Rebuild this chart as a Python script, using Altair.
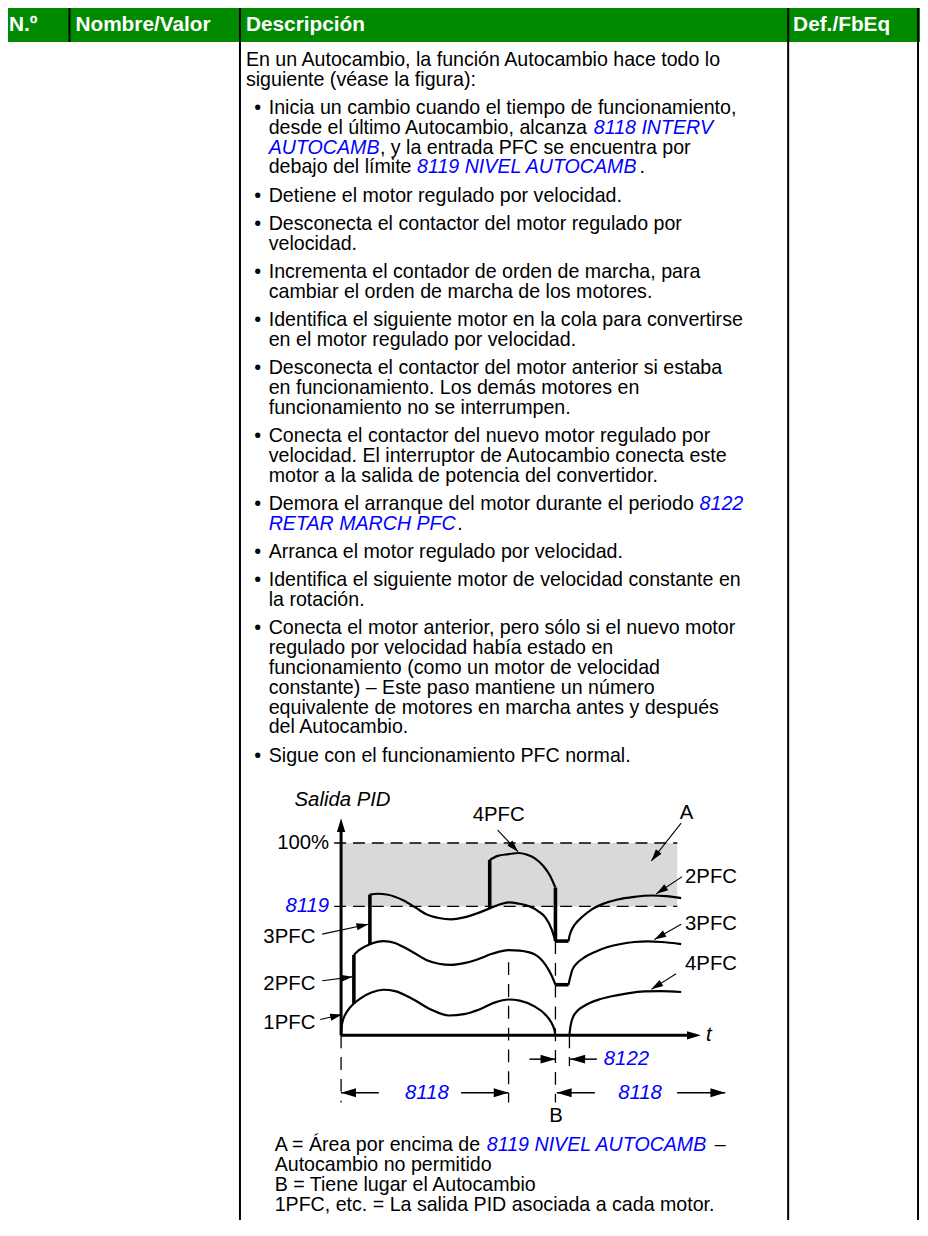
import math
import re
import altair as alt
import pandas as pd

# ------------------------------------------------------------------ text content
header_labels = ["N.º", "Nombre/Valor", "Descripción", "Def./FbEq"]

intro_lines = [
    "En un Autocambio, la función Autocambio hace todo lo",
    "siguiente (véase la figura):",
]

bullet_items = [
    ["Inicia un cambio cuando el tiempo de funcionamiento,",
     "desde el último Autocambio, alcanza {8118 INTERV}",
     "{AUTOCAMB}, y la entrada PFC se encuentra por",
     "debajo del límite {8119 NIVEL AUTOCAMB}."],
    ["Detiene el motor regulado por velocidad."],
    ["Desconecta el contactor del motor regulado por",
     "velocidad."],
    ["Incrementa el contador de orden de marcha, para",
     "cambiar el orden de marcha de los motores."],
    ["Identifica el siguiente motor en la cola para convertirse",
     "en el motor regulado por velocidad."],
    ["Desconecta el contactor del motor anterior si estaba",
     "en funcionamiento. Los demás motores en",
     "funcionamiento no se interrumpen."],
    ["Conecta el contactor del nuevo motor regulado por",
     "velocidad. El interruptor de Autocambio conecta este",
     "motor a la salida de potencia del convertidor."],
    ["Demora el arranque del motor durante el periodo {8122}",
     "{RETAR MARCH PFC}."],
    ["Arranca el motor regulado por velocidad."],
    ["Identifica el siguiente motor de velocidad constante en",
     "la rotación."],
    ["Conecta el motor anterior, pero sólo si el nuevo motor",
     "regulado por velocidad había estado en",
     "funcionamiento (como un motor de velocidad",
     "constante) – Este paso mantiene un número",
     "equivalente de motores en marcha antes y después",
     "del Autocambio."],
    ["Sigue con el funcionamiento PFC normal."],
]

legend_lines = [
    "A = Área por encima de {8119 NIVEL AUTOCAMB} –",
    "Autocambio no permitido",
    "B = Tiene lugar el Autocambio",
    "1PFC, etc. = La salida PID asociada a cada motor.",
]

# ------------------------------------------------------------------ diagram data
# t : time (one 8118 interval = 10 units),  v : PID output in %
level_100 = 100
level_8119 = 67
t_interval = 9.94
t_change = 12.72
t_restart = 13.5
t_shade_end = 19.95

pfc1_t = [0, 0.03, 0.1, 0.2, 0.4, 0.76, 1.2, 1.8, 2.5, 3.2, 4.3, 5.3, 6.4, 7.3, 8.2, 9.1,
          9.94, 10.6, 11.5, 12.1, 12.45, 12.65, 12.72]
pfc1_v = [0, 4, 7.5, 10, 13, 16.5, 19.5, 22.3, 23.7, 23, 18.6, 13.5, 10.3, 11, 13.4, 17,
          18.6, 18, 14.9, 11, 7, 3, 0]

pfc2_t = [0.76, 1.06, 1.71, 2.53, 3.2, 3.71, 4.4, 5.06, 5.8, 6.53, 7.3, 8.0, 9.0, 9.94,
          10.6, 11.5, 12.1, 12.5, 12.72]
pfc2_v = [41.8, 44.3, 47.4, 49.0, 48.0, 45.9, 42.5, 39.2, 37.2, 36.6, 37.5, 39.2, 42.5, 44.3,
          44, 42, 37, 31, 26.3]

pfc3_t = [1.71, 2.2, 2.71, 3.71, 4.4, 5.06, 5.8, 6.53, 7.3, 8.0, 8.82, 9.4, 9.94, 10.53,
          11.2, 11.71, 12.12, 12.5, 12.72]
pfc3_v = [73.2, 73.6, 73.2, 70.1, 66.5, 62.9, 61, 60.3, 61.3, 63.2, 66.0, 68, 69.1, 68.5,
          67, 64.5, 61.3, 55, 49.0]

pfc4_t = [8.82, 9.3, 9.94, 10.53, 11.0, 11.5, 12.0, 12.4, 12.72]
pfc4_v = [91.2, 93.3, 94.2, 94.8, 94, 92, 88, 83, 76.8]

after2_t = [13.5, 13.55, 13.62, 13.72, 13.88, 14.3, 14.88, 15.6, 16.41, 17.4, 18.41, 19.3, 20.18]
after2_v = [49.0, 51.5, 53.5, 55.5, 57.7, 61.5, 65.5, 68.5, 70.6, 72.0, 72.7, 72.4, 71.3]

after3_t = [13.5, 13.55, 13.62, 13.72, 14.0, 14.47, 15.1, 15.82, 16.6, 17.41, 18.2, 19.0, 20.18]
after3_v = [26.3, 28.5, 31, 34.0, 37.5, 40.7, 43.5, 45.9, 47.5, 48.5, 48.8, 48.5, 47.4]

after4_t = [13.55, 13.6, 13.67, 13.78, 14.0, 14.47, 15.2, 16.06, 17.0, 18.0, 19.0, 20.18]
after4_v = [0, 4, 7, 9.8, 12.5, 15.5, 18.3, 20.3, 21.8, 22.8, 23, 22.5]

jump_t = [0.76, 1.71, 8.82, t_change]
jump_from = [16.5, 47.4, 66.0, 76.8]
jump_to = [41.8, 73.2, 91.2, 49.0]
bar_v = [49.0, 26.3]

# pointer arrows: start (t, v) -> tip (t, v)
pointer_arrows = [
    (-1.12, 52.6, 1.62, 57.7),
    (-1.12, 28.4, 0.68, 30.4),
    (-1.24, 8.2, 0.06, 10.8),
    (9.29, 106.7, 10.5, 95.5),
    (20.18, 110.3, 18.41, 90.7),
    (20.24, 82.5, 18.71, 73.6),
    (20.18, 57.7, 18.59, 49.8),
    (19.88, 32.0, 18.41, 23.9),
]
# dimension arrows (t start, t tip, v)
dim_arrows = [
    (11.18, t_change, -12.4),
    (15.18, 13.6, -12.4),
    (2.24, 0.0, -29.9),
    (7.12, t_interval, -29.9),
    (15.06, 12.8, -29.9),
    (19.94, 22.8, -29.9),
]
dashed_vertical = [(0.0, 0, -35), (t_interval, 38, -35), (t_change, 49, -35), (13.55, 0, -16)]

labels_plain = [
    ("100%", -0.71, 100, "right"), ("3PFC", -1.53, 51.0, "right"),
    ("2PFC", -1.53, 26.8, "right"), ("1PFC", -1.53, 6.2, "right"),
    ("4PFC", 9.35, 114.4, "center"), ("A", 20.5, 115.5, "center"),
    ("2PFC", 20.41, 82.5, "left"), ("3PFC", 20.41, 57.7, "left"),
    ("4PFC", 20.41, 37.1, "left"), ("B", 12.76, -41.8, "center"),
]
labels_italic = [("Salida PID", -2.76, 122.2, "left"), ("t", 21.65, 0, "left")]
labels_link = [
    ("8119", -0.71, level_8119, "right"), ("8122", 15.59, -12.4, "left"),
    ("8118", 5.09, -29.9, "center"), ("8118", 17.74, -29.9, "center"),
]

# ------------------------------------------------------------------ style / layout
FONT = "Liberation Sans"
GREEN = "#008A00"
BLUE = "#0000FF"
GRAY = "#D9D9D9"
MARGIN = 8
CH_W, CH_H = 920, 1212

HEADER_TOP, HEADER_BOT = 2, 37
HEADER_X = [9, 76, 248, 800]
HEADER_Y = 20
COL_HEADER_ONLY = [70]
COL_FULL = [4, 242, 795, 926]
PAGE_BOTTOM = 1236

BODY_SIZE = 19.8
BODY_TOP, LINE_H, BULLET_GAP = 55, 20, 8.5
PARA_X, BULLET_X, TEXT_X = 248, 260, 271
LEGEND_X, LEGEND_TOP, LEGEND_H, LEGEND_SIZE = 277, 1150, 20, 19.8
LABEL_SIZE = 20.5

DIA_X_DOMAIN, DIA_X_RANGE = [0, 20], [336, 676]
DIA_Y_DOMAIN, DIA_Y_RANGE = [0, 100], [1031, 837]
SX = (DIA_X_RANGE[1] - DIA_X_RANGE[0]) / (DIA_X_DOMAIN[1] - DIA_X_DOMAIN[0])
SY = (DIA_Y_RANGE[0] - DIA_Y_RANGE[1]) / (DIA_Y_DOMAIN[1] - DIA_Y_DOMAIN[0])

xs_page = alt.Scale(domain=[MARGIN, MARGIN + CH_W], range=[0, CH_W], nice=False, zero=False)
ys_page = alt.Scale(domain=[MARGIN, MARGIN + CH_H], range=[0, CH_H], nice=False, zero=False)
xs_dia = alt.Scale(domain=DIA_X_DOMAIN, range=DIA_X_RANGE, nice=False, zero=False)
ys_dia = alt.Scale(domain=DIA_Y_DOMAIN, range=DIA_Y_RANGE, nice=False, zero=False)

# Arial / Helvetica advance widths (1/1000 em) for placing inline segments
ADV = {' ': 278, '!': 278, '(': 333, ')': 333, ',': 278, '-': 333, '.': 278, '/': 278,
       ':': 278, '%': 889, '=': 584, '–': 556, '•': 350, 'º': 365,
       'á': 556, 'é': 556, 'í': 278, 'ó': 556, 'ú': 556, 'ñ': 556, 'Á': 667}
for ch in "0123456789":
    ADV[ch] = 556
for ch, w in zip("ABCDEFGHIJKLMNOPQRSTUVWXYZ",
                 [667, 667, 722, 722, 667, 611, 778, 722, 278, 500, 667, 556, 833, 722, 778,
                  667, 778, 722, 667, 611, 722, 667, 944, 667, 667, 611]):
    ADV[ch] = w
for ch, w in zip("abcdefghijklmnopqrstuvwxyz",
                 [556, 556, 500, 556, 556, 278, 556, 556, 222, 222, 500, 222, 833, 556, 556,
                  556, 556, 333, 500, 278, 556, 500, 722, 500, 500, 500]):
    ADV[ch] = w


def text_width(s, size):
    return sum(ADV.get(c, 556) for c in s) * size / 1000.0


def split_segments(line):
    out = []
    for p in re.split(r"(\{[^}]*\})", line):
        if not p:
            continue
        out.append((p[1:-1], True) if p.startswith("{") else (p, False))
    return out


def place_line(line, x0, y, size, rows):
    x = x0
    for seg, link in split_segments(line):
        lead = len(seg) - len(seg.lstrip(" "))
        rows.append(dict(x=x + text_width(seg[:lead], size), y=y, text=seg.strip(" "), link=link))
        x += text_width(seg, size)


# ---- body text rows
body_rows, bullet_rows = [], []
line_idx, gaps = 0, 0
for ln in intro_lines:
    place_line(ln, PARA_X, BODY_TOP + LINE_H * line_idx, BODY_SIZE, body_rows)
    line_idx += 1
for item in bullet_items:
    gaps += 1
    for k, ln in enumerate(item):
        y = BODY_TOP + LINE_H * line_idx + BULLET_GAP * gaps
        if k == 0:
            bullet_rows.append(dict(x=BULLET_X, y=y, text="•"))
        place_line(ln, TEXT_X, y, BODY_SIZE, body_rows)
        line_idx += 1

legend_rows = []
for i, ln in enumerate(legend_lines):
    place_line(ln, LEGEND_X, LEGEND_TOP + LEGEND_H * i, LEGEND_SIZE, legend_rows)

body_df = pd.DataFrame(body_rows)
legend_df = pd.DataFrame(legend_rows)


def text_layer(df, xs, ys, size, align="left", color="black", style="normal", weight="normal"):
    return alt.Chart(df).mark_text(
        align=align, baseline="middle", font=FONT, fontSize=size,
        fontStyle=style, fontWeight=weight, color=color,
    ).encode(
        x=alt.X("x:Q", scale=xs, axis=None),
        y=alt.Y("y:Q", scale=ys, axis=None),
        text=alt.Text("text:N"),
    )


def px(field, scale):
    return alt.X(field, type="quantitative", scale=scale, axis=None)


def py(field, scale):
    return alt.Y(field, type="quantitative", scale=scale, axis=None)


layers = []

# ---- table frame
header_df = pd.DataFrame([dict(x=0, x2=MARGIN + CH_W, y=HEADER_TOP, y2=HEADER_BOT)])
layers.append(alt.Chart(header_df).mark_rect(color=GREEN).encode(
    x=px("x", xs_page), x2="x2", y=py("y", ys_page), y2="y2"))

col_rows = [dict(x=c, y=HEADER_TOP, y2=HEADER_BOT) for c in COL_HEADER_ONLY]
col_rows += [dict(x=c, y=HEADER_TOP, y2=PAGE_BOTTOM) for c in COL_FULL]
layers.append(alt.Chart(pd.DataFrame(col_rows)).mark_rule(color="black", strokeWidth=2).encode(
    x=px("x", xs_page), y=py("y", ys_page), y2="y2"))

hdr_text = pd.DataFrame([dict(x=x, y=HEADER_Y, text=t) for x, t in zip(HEADER_X, header_labels)])
layers.append(text_layer(hdr_text, xs_page, ys_page, 21, color="white", weight="bold"))

# ---- body text
layers.append(text_layer(body_df[~body_df.link], xs_page, ys_page, BODY_SIZE))
layers.append(text_layer(body_df[body_df.link], xs_page, ys_page, BODY_SIZE, color=BLUE, style="italic"))
layers.append(text_layer(pd.DataFrame(bullet_rows), xs_page, ys_page, BODY_SIZE, align="center"))

# ---- diagram: shaded area
shade_df = pd.DataFrame([dict(t=0, t2=t_shade_end, v=level_8119, v2=level_100)])
layers.append(alt.Chart(shade_df).mark_rect(color=GRAY).encode(
    x=px("t", xs_dia), x2="t2", y=py("v", ys_dia), y2="v2"))

# dashed horizontal levels
hlev = pd.DataFrame([dict(t=-0.41, t2=t_shade_end, v=level_100), dict(t=-0.41, t2=t_shade_end, v=level_8119)])
layers.append(alt.Chart(hlev).mark_rule(color="black", strokeWidth=1.3, strokeDash=[12, 7]).encode(
    x=px("t", xs_dia), x2="t2", y=py("v", ys_dia)))

# dashed vertical markers
vdf = pd.DataFrame([dict(t=t, v=a, v2=b) for t, a, b in dashed_vertical])
layers.append(alt.Chart(vdf).mark_rule(color="black", strokeWidth=1.3, strokeDash=[13, 9]).encode(
    x=px("t", xs_dia), y=py("v", ys_dia), y2="v2"))

# curves
curve_rows = []
for name, ts, vs in [("1PFC", pfc1_t, pfc1_v), ("2PFC", pfc2_t, pfc2_v), ("3PFC", pfc3_t, pfc3_v),
                     ("4PFC", pfc4_t, pfc4_v), ("2PFC'", after2_t, after2_v),
                     ("3PFC'", after3_t, after3_v), ("4PFC'", after4_t, after4_v)]:
    for i, (t, v) in enumerate(zip(ts, vs)):
        curve_rows.append(dict(curve=name, i=i, t=t, v=v))
layers.append(alt.Chart(pd.DataFrame(curve_rows)).mark_line(
    color="black", strokeWidth=2.2, interpolate="monotone").encode(
    x=px("t", xs_dia), y=py("v", ys_dia), detail="curve:N", order="i:Q"))

# thick switching segments
thick = [dict(t=t, t2=t, v=a, v2=b) for t, a, b in zip(jump_t, jump_from, jump_to)]
thick += [dict(t=t_change, t2=t_restart, v=v, v2=v) for v in bar_v]
layers.append(alt.Chart(pd.DataFrame(thick)).mark_rule(color="black", strokeWidth=3.6).encode(
    x=px("t", xs_dia), x2="t2", y=py("v", ys_dia), y2="v2"))

# axes
axes = pd.DataFrame([dict(t=0, t2=0, v=0, v2=108), dict(t=0, t2=20.6, v=0, v2=0)])
layers.append(alt.Chart(axes).mark_rule(color="black", strokeWidth=3).encode(
    x=px("t", xs_dia), x2="t2", y=py("v", ys_dia), y2="v2"))


def head_angle(t0, v0, t1, v1):
    dx = (t1 - t0) * SX
    dy = -(v1 - v0) * SY
    return math.degrees(math.atan2(dx, -dy)) % 360.0


heads = [dict(t=0, v=112.9, ang=0.0, sz=196), dict(t=21.35, v=0, ang=90.0, sz=196)]
ptr_rows = []
for t0, v0, t1, v1 in pointer_arrows:
    ptr_rows.append(dict(t=t0, v=v0, t2=t1, v2=v1))
    heads.append(dict(t=t1, v=v1, ang=head_angle(t0, v0, t1, v1), sz=144))
dim_rows = []
for t0, t1, v in dim_arrows:
    dim_rows.append(dict(t=t0, t2=t1, v=v))
    heads.append(dict(t=t1, v=v, ang=head_angle(t0, v, t1, v), sz=225))

layers.append(alt.Chart(pd.DataFrame(ptr_rows)).mark_rule(color="black", strokeWidth=1.1).encode(
    x=px("t", xs_dia), x2="t2", y=py("v", ys_dia), y2="v2"))
layers.append(alt.Chart(pd.DataFrame(dim_rows)).mark_rule(color="black", strokeWidth=1.5).encode(
    x=px("t", xs_dia), x2="t2", y=py("v", ys_dia)))
layers.append(alt.Chart(pd.DataFrame(heads)).mark_point(
    shape="M0,0L0.6,2L-0.6,2Z", filled=True, color="black", opacity=1, strokeWidth=0).encode(
    x=px("t", xs_dia), y=py("v", ys_dia),
    angle=alt.Angle("ang:Q", scale=None), size=alt.Size("sz:Q", scale=None)))

# diagram labels
for group, color, style in [(labels_plain, "black", "normal"), (labels_italic, "black", "italic"),
                            (labels_link, BLUE, "italic")]:
    for align in ["left", "center", "right"]:
        rows = [dict(x=t, y=v, text=s) for s, t, v, a in group if a == align]
        if rows:
            layers.append(text_layer(pd.DataFrame(rows), xs_dia, ys_dia, LABEL_SIZE,
                                     align=align, color=color, style=style))

# legend text under the figure
layers.append(text_layer(legend_df[~legend_df.link], xs_page, ys_page, LEGEND_SIZE))
layers.append(text_layer(legend_df[legend_df.link], xs_page, ys_page, LEGEND_SIZE, color=BLUE, style="italic"))

chart = alt.layer(*layers).resolve_scale(x="independent", y="independent").properties(
    width=CH_W, height=CH_H, autosize=alt.AutoSizeParams(type="none"), padding=0,
).configure_view(stroke=None)

chart.save("out.html", embed_options={"renderer": "svg", "actions": False})
